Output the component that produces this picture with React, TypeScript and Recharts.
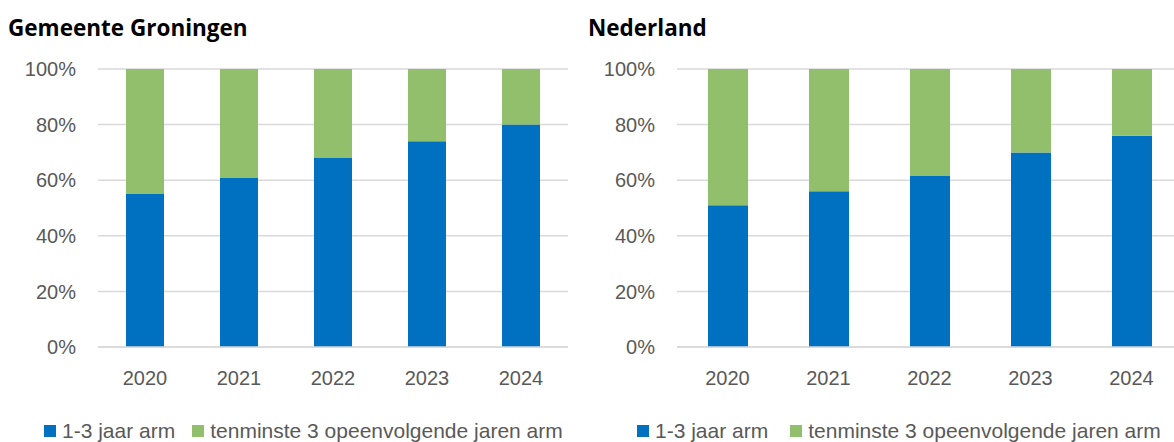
import { BarChart, Bar, XAxis, YAxis, CartesianGrid } from "recharts";

const years = ["2020", "2021", "2022", "2023", "2024"];

// Gemeente Groningen (% of poor households)
const groningenShort = [55, 61, 68, 74, 80];
const groningenLong = [45, 39, 32, 26, 20];

// Nederland
const nederlandShort = [51, 56, 61.5, 70, 76];
const nederlandLong = [49, 44, 38.5, 30, 24];

const yTicks = [0, 20, 40, 60, 80, 100];

const seriesNames = ["1-3 jaar arm", "tenminste 3 opeenvolgende jaren arm"];
const BLUE = "#0070C0";
const GREEN = "#92BF6C";
const TEXT = "#595959";
const GRID = "#D9D9D9";

const toRows = (shortVals: number[], longVals: number[]) =>
    years.map((year, i) => ({ year, short: shortVals[i], long: longVals[i] }));

const groningenData = toRows(groningenShort, groningenLong);
const nederlandData = toRows(nederlandShort, nederlandLong);

const LegendRow = ({ left, gap }: { left: number; gap: number }) => (
    <div style={{ position: "absolute", left, top: 419, display: "flex", alignItems: "center", fontFamily: "'Liberation Sans Narrow', 'Liberation Sans', sans-serif", fontSize: 21, color: TEXT, whiteSpace: "nowrap" }}>
        <span style={{ width: 12, height: 12, background: BLUE, marginRight: 6, display: "inline-block" }} />
        <span style={{ marginRight: gap }}>{seriesNames[0]}</span>
        <span style={{ width: 12, height: 12, background: GREEN, marginRight: 6, display: "inline-block" }} />
        <span>{seriesNames[1]}</span>
    </div>
);

type PanelProps = {
    data: { year: string; short: number; long: number }[];
    width: number;
    yWidth: number;
    barSize: number;
};

const Panel = ({ data, width, yWidth, barSize }: PanelProps) => (
    <BarChart width={width} height={442} data={data} margin={{ top: 69, right: 12, bottom: 65, left: 0 }}>
        <CartesianGrid vertical={false} stroke={GRID} strokeWidth={1.5} />
        <XAxis
            dataKey="year"
            height={30}
            axisLine={{ stroke: GRID, strokeWidth: 1.5 }}
            tickLine={false}
            tickSize={0}
            tickMargin={24}
            tick={{ fontSize: 20, fill: TEXT, fontFamily: "'Liberation Sans', Arial, sans-serif" }}
        />
        <YAxis
            width={yWidth}
            domain={[0, 100]}
            ticks={yTicks}
            axisLine={false}
            tickLine={false}
            tickSize={0}
            tickMargin={22}
            tickFormatter={(v) => `${v}%`}
            tick={{ fontSize: 20, fill: TEXT, fontFamily: "'Liberation Sans', Arial, sans-serif" }}
        />
        <Bar dataKey="short" name={seriesNames[0]} stackId="a" fill={BLUE} barSize={barSize} isAnimationActive={false} />
        <Bar dataKey="long" name={seriesNames[1]} stackId="a" fill={GREEN} barSize={barSize} isAnimationActive={false} />
    </BarChart>
);

const titleStyle: React.CSSProperties = {
    position: "absolute",
    top: 12,
    fontFamily: "'Open Sans', 'Noto Sans', sans-serif",
    fontWeight: 700,
    fontSize: 22.5,
    color: "#000",
    whiteSpace: "nowrap",
};

export default function App() {
    return (
        <div style={{ position: "fixed", left: 0, top: 0, width: 1174, height: 442, overflow: "hidden", background: "#fff" }}>
            <div style={{ position: "absolute", left: 0, top: 0 }}>
                <Panel data={groningenData} width={580} yWidth={98} barSize={38} />
            </div>
            <div style={{ position: "absolute", left: 580, top: 0 }}>
                <Panel data={nederlandData} width={614} yWidth={97} barSize={40} />
            </div>
            <div style={{ ...titleStyle, left: 8 }}>Gemeente Groningen</div>
            <div style={{ ...titleStyle, left: 588 }}>Nederland</div>
            <LegendRow left={44} gap={17} />
            <LegendRow left={637} gap={22} />
        </div>
    );
}
